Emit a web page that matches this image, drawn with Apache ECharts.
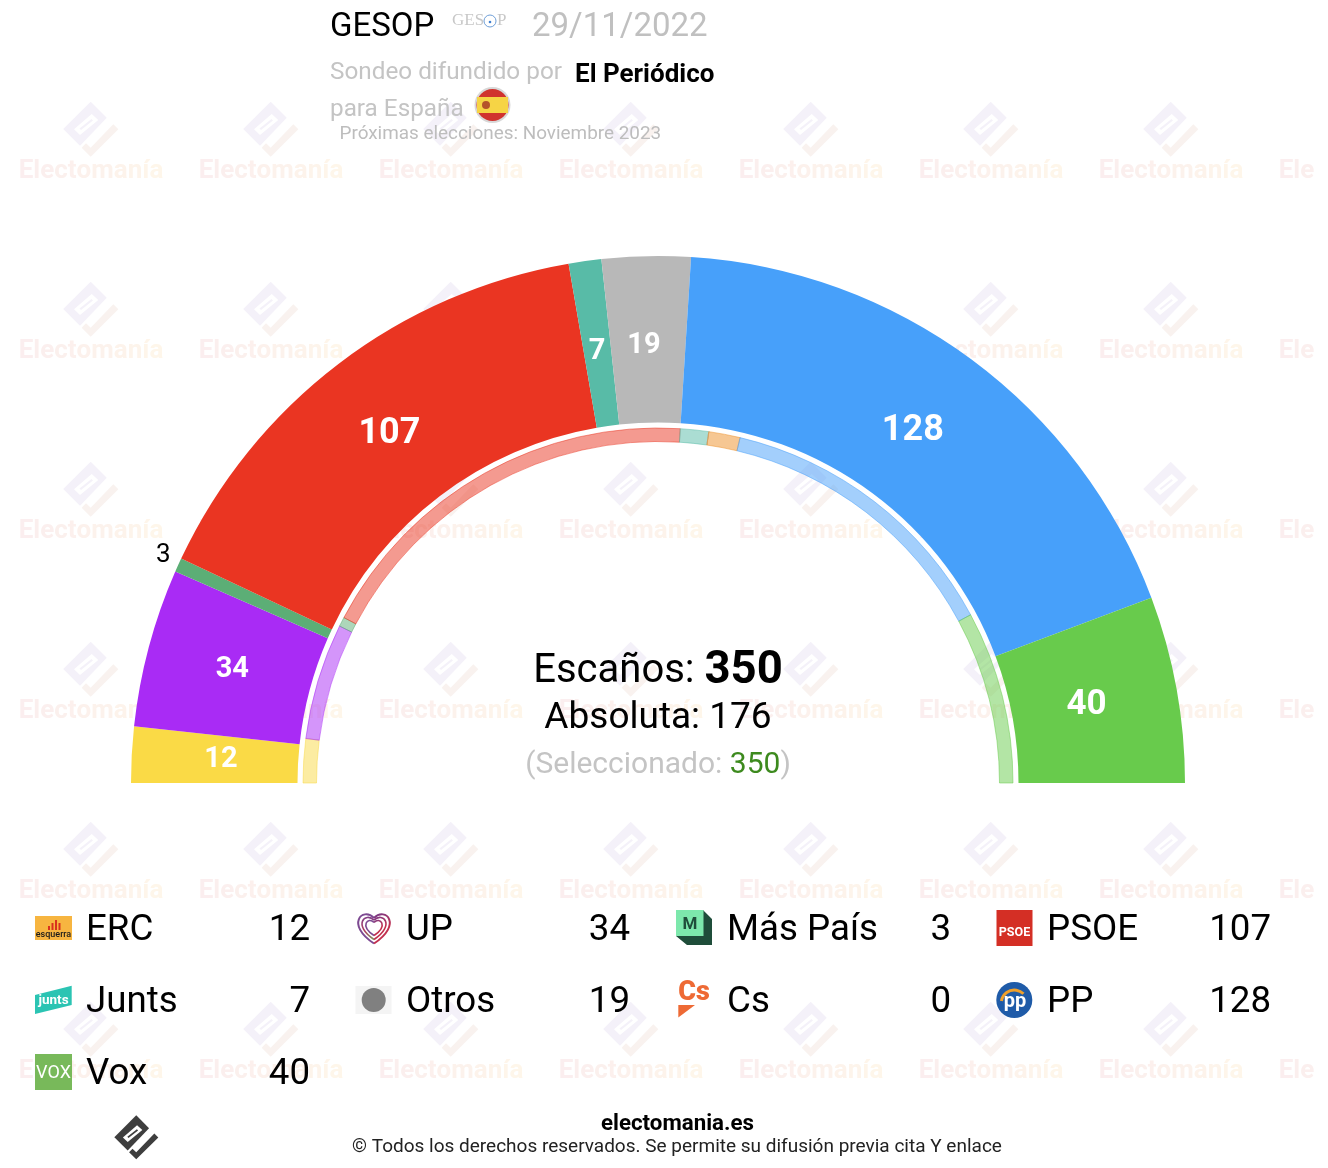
<!DOCTYPE html>
<html><head><meta charset="utf-8">
<style>html,body{margin:0;padding:0;background:#fff}#c{width:1328px;height:1168px}</style>
<script src="https://cdn.jsdelivr.net/npm/echarts@6/dist/echarts.min.js"></script>
</head><body><div id="c"></div>
<script>
const parties = ['ERC','UP','Más País','PSOE','Junts','Otros','Cs','PP','Vox'];
const seats = [12,34,3,107,7,19,0,128,40];
const previousSeats = [14,37,3,128,9,0,10,94,55];
const colors = ['#fada46','#a92bf5','#5cae76','#ea3522','#58bba7','#b8b8b8','#ee8f27','#47a0fa','#68cb4c'];
const labelSizes = [29,29,26,36,29,29,0,36,35];
const labelShift = [[9,1],[6,2],[1,-8],[2,6],[1,11],[-4,9],[0,0],[-11,7],[-11,2]];
const totalSeats = 350, majority = 176, selected = 350;
const FONT = 'Roboto, sans-serif';

const chart = echarts.init(document.getElementById('c'), null, {renderer:'canvas'});
const g = [];
const txt = (text,x,y,size,fill,extra) => g.push({type:'text',z:20,silent:true,style:Object.assign({
  text,x,y,fill,font:`${(extra&&extra.weight)||400} ${size}px ${FONT}`,textAlign:'left',textVerticalAlign:'middle'},extra||{})});
const poly = (points,fill,z) => g.push({type:'polygon',z:z||20,silent:true,shape:{points},style:{fill}});
const rect = (x,y,w,h,fill,z) => g.push({type:'rect',z:z||20,silent:true,shape:{x,y,width:w,height:h},style:{fill}});
const circ = (cx,cy,r,style,z) => g.push({type:'circle',z:z||20,silent:true,shape:{cx,cy,r},style});

// brand mark, drawn around its centre
function mark(cx,cy,s,cBody,cSlit,cTick,z){
  const P = a => a.map(p=>[cx+p[0]*s,cy+p[1]*s]);
  poly(P([[-0.3,-28.3],[15.7,-12.3],[-11,15.7],[-27.7,-1]]),cBody,z);
  poly(P([[-17,-0.7],[0.7,-16],[7.3,-10],[-11,5]]),cSlit,z);
  poly(P([[-11.5,-1.5],[0.5,-11],[2,-9.5],[-10,0]]),cBody,z);
  poly(P([[22.3,-5.7],[27.3,-0.7],[-0.3,26.7],[-9.3,17.7],[-5,13.3],[-0.3,17.7]]),cTick,z);
}
// watermark grid: one colour per letter, fading pink to peach
const wmWord = 'Electomanía';
const wmColors = ['#fbeeef','#fbefee','#fbefee','#fbf0ed','#fcf0ed','#fcf1ec','#fcf2ec','#fdf3eb','#fdf4eb','#fef5ea','#fef6ea'];
const wmRich = {}; let wmText = '';
wmWord.split('').forEach((ch,i)=>{ wmRich['l'+i]={font:`700 26px ${FONT}`,fill:wmColors[i]}; wmText+=`{l${i}|${ch}}`; });
for(let r=0;r<6;r++){
  for(let c=0;c<8;c++){
    const x=91+180*c, y=170+180*r;
    mark(x,y-40,1,'#f4f1f9','#ffffff','#f9f2ef',1);
    g.push({type:'text',z:1,silent:true,style:{text:wmText,rich:wmRich,x,y:y+1.5,textAlign:'center',textVerticalAlign:'middle'}});
  }
}
rect(1315,0,13,1168,'#ffffff',1.5);

// header
txt('GESOP',330,28,33,'#000000');
txt('GES',452,21,17,'#c8c8c8',{font:`400 17px "Liberation Serif"`});
circ(490,21,6,{fill:null,stroke:'#6f9fd8',lineWidth:1});
circ(490,22,1.3,{fill:'#3f7fd0'});
txt('P',497,21,17,'#c8c8c8',{font:`400 17px "Liberation Serif"`});
txt('29/11/2022',532,28,33,'#c0c0c0');
txt('Sondeo difundido por',330,73,24.3,'#c4c4c4');
txt('El Periódico',575,75,26,'#000000',{weight:700});
txt('para España',330,110,24.3,'#c4c4c4');
circ(492.5,105,18,{fill:'#d8d8d8'});
circ(492.5,105,16,{fill:'#d0322e'});
rect(477,97,31,16,'#f6d445');
circ(486,105,4,{fill:'#b5532a'});
txt('Próximas elecciones: Noviembre 2023',339.5,134.5,18.9,'#bdbdbd');

// centre text
g.push({type:'text',z:20,silent:true,style:{
  text:`{a|Escaños: }{b|${totalSeats}}`,x:658,y:672,textAlign:'center',textVerticalAlign:'middle',
  rich:{a:{font:`400 40px ${FONT}`,fill:'#000'},b:{font:`700 45.5px ${FONT}`,fill:'#000'}}}});
txt(`Absoluta: ${majority}`,658,719,37,'#000000',{textAlign:'center'});
g.push({type:'text',z:20,silent:true,style:{
  text:`{a|(Seleccionado: }{b|${selected}}{c|)}`,x:658,y:765,textAlign:'center',textVerticalAlign:'middle',
  rich:{a:{font:`400 30px ${FONT}`,fill:'#c4c4c4'},b:{font:`400 30px ${FONT}`,fill:'#3d8a1e'},c:{font:`400 30px ${FONT}`,fill:'#c4c4c4'}}}});

// legend text
const colX=[35,355,676,996], rowY=[931,1003,1075];
parties.forEach((p,i)=>{
  const cx=colX[i%4], y=rowY[Math.floor(i/4)];
  txt(p,cx+51,y,36.7,'#000000');
  txt(String(seats[i]),cx+275,y,36.7,'#000000',{textAlign:'right'});
});
// legend icons
rect(35,916,37,24,'#f7b540');
[[48,926,2,4],[51.5,923,2,7],[55,920,2,10],[58.5,923,2,7]].forEach(b=>rect(b[0],b[1],b[2],b[3],'#d9301e'));
txt('esquerra',53.5,935,9,'#1a1a1a',{textAlign:'center',weight:500});

const heartGrad=new echarts.graphic.LinearGradient(0,0,1,1,[{offset:0,color:'#6a3d94'},{offset:.55,color:'#c2304f'},{offset:1,color:'#c2304f'}]);
const heartGrad2=new echarts.graphic.LinearGradient(0,0,0,1,[{offset:0,color:'#7c3f8e'},{offset:.6,color:'#b0405e'},{offset:1,color:'#6fae5d'}]);
[[16.5,2],[12.5,1.6],[8.5,1.6]].forEach((h,k)=>{
  const s=h[0], cx=374, cy=927;
  g.push({type:'bezierCurve',z:20,silent:true,shape:{x1:cx,y1:cy+s,x2:cx,y2:cy-s*0.55,cpx1:cx-s*1.75,cpy1:cy-s*0.15,cpx2:cx-s*0.7,cpy2:cy-s*1.25},
    style:{stroke:k==1?heartGrad2:'#7d4a92',lineWidth:h[1],fill:null}});
  g.push({type:'bezierCurve',z:20,silent:true,shape:{x1:cx,y1:cy+s,x2:cx,y2:cy-s*0.55,cpx1:cx+s*1.75,cpy1:cy-s*0.15,cpx2:cx+s*0.7,cpy2:cy-s*1.25},
    style:{stroke:heartGrad,lineWidth:h[1],fill:null}});
});

poly([[703,910],[712,919],[712,945],[687,945],[676,936],[703,936]],'#1f4d3a');
rect(676,910,27.5,26,'#7de8ac');
txt('M',690,925,17,'#1f4d3a',{textAlign:'center',weight:700});
rect(996.5,910,36,36,'#d42f25');
txt('PSOE',1014.5,933,12.5,'#ffffff',{textAlign:'center',weight:700});
poly([[35,995],[71.7,985.7],[71.7,1005],[35,1014]],'#2bc4b3');
txt('junts',53.5,1001,13.5,'#ffffff',{textAlign:'center',weight:700});
rect(355.5,986,36,28,'#f4f4f4');
circ(373.7,1000,12,{fill:'#808080'});
txt('Cs',694,993,27,'#ee6a35',{textAlign:'center',weight:900});
poly([[678.3,1005],[695,1005],[678.3,1017.5]],'#ee6a35');
circ(1014.3,1000,18,{fill:'#1f5ba8'});
g.push({type:'arc',z:20,silent:true,shape:{cx:1014.3,cy:1003,r:13,startAngle:Math.PI*1.05,endAngle:Math.PI*1.75},style:{stroke:'#f0a02a',lineWidth:3,fill:null}});
txt('pp',1015,1002,20,'#ffffff',{textAlign:'center',weight:700});
rect(35,1054,37,36,'#78b95a');
txt('VOX',53.5,1073,18,'#ffffff',{textAlign:'center',weight:400});

// footer
txt('electomania.es',677.5,1124,22.3,'#000000',{textAlign:'center',weight:700});
txt('© Todos los derechos reservados. Se permite su difusión previa cita Y enlace',677,1147.5,19,'#222222',{textAlign:'center'});
mark(136.5,1138,0.8,'#3e3e3e','#ffffff','#3e3e3e',20);

const outer = parties.map((name,i)=>({
  name,value:seats[i],itemStyle:{color:colors[i]},
  label: seats[i]===0 ? {show:false} : (name==='Más País'
    ? {show:true,position:'outside',color:'#000',fontSize:labelSizes[i],fontWeight:400}
    : {show:true,position:'inside',color:'#fff',fontSize:labelSizes[i],fontWeight:700}),
  labelLine:{show:false,length:4,length2:0}
}));
const inner = parties.map((name,i)=>({
  name,value:previousSeats[i],itemStyle:{color:colors[i],borderColor:colors[i],borderWidth:1,opacity:.5}
}));
chart.setOption({
  animation:false,
  backgroundColor:'#ffffff',
  textStyle:{fontFamily:FONT},
  series:[
    {type:'pie',center:[658,783],radius:[360.5,527],startAngle:180,endAngle:0,clockwise:true,silent:true,z:5,
     label:{formatter:'{c}',fontFamily:FONT},avoidLabelOverlap:false,data:outer,
     labelLayout:p=>({dx:labelShift[p.dataIndex][0],dy:labelShift[p.dataIndex][1]})},
    {type:'pie',center:[658,783],radius:[341.5,355],startAngle:180,endAngle:0,clockwise:true,silent:true,z:5,
     label:{show:false},labelLine:{show:false},data:inner}
  ],
  graphic:{elements:g}
});
</script></body></html>
